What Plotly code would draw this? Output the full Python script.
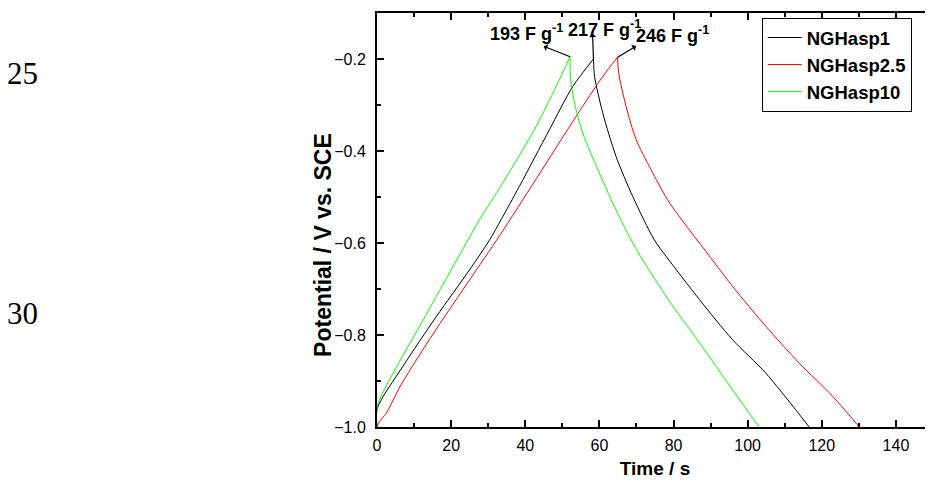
import plotly.graph_objects as go

# galvanostatic charge/discharge curves
# each curve split at the peak: charge branch, then discharge branch
t_nghasp1_c = [0, 0.1, 7, 16, 25, 30.4, 33.5, 38.4, 46.5, 52.8, 58.4]
v_nghasp1_c = [-1.0, -0.959, -0.868, -0.76, -0.658, -0.593, -0.549, -0.477, -0.354, -0.26, -0.2]
t_nghasp1_d = [58.4, 58.7, 60.9, 64.5, 69, 74.8, 78, 87, 95.9, 104.9, 116.6]
v_nghasp1_d = [-0.2, -0.238, -0.317, -0.412, -0.499, -0.593, -0.629, -0.723, -0.81, -0.883, -1.0]

t_nghasp25_c = [0, 0.7, 2.5, 6.5, 16, 25, 33, 43, 53.7, 60.9, 64.9]
v_nghasp25_c = [-1.0, -0.988, -0.97, -0.908, -0.787, -0.68, -0.585, -0.46, -0.325, -0.238, -0.196]
t_nghasp25_d = [64.9, 65.2, 67.2, 69.9, 73.9, 78.4, 84.3, 87, 95.9, 104.9, 113.9, 122.9, 130.1]
v_nghasp25_d = [-0.196, -0.23, -0.303, -0.375, -0.44, -0.506, -0.572, -0.6, -0.694, -0.781,
                -0.861, -0.933, -1.0]

t_nghasp10_c = [0, 0.05, 3.4, 11.5, 18.5, 24.6, 27.7, 33.9, 42.9, 48.3, 52.1]
v_nghasp10_c = [-1.0, -0.955, -0.897, -0.781, -0.68, -0.593, -0.549, -0.47, -0.347, -0.26, -0.195]
t_nghasp10_d = [52.1, 52.2, 53.3, 55.5, 60, 63.2, 69, 78, 87, 95.9, 103.1]
v_nghasp10_d = [-0.195, -0.241, -0.296, -0.361, -0.448, -0.506, -0.6, -0.716, -0.817, -0.919, -1.0]

series_names = ["NGHasp1", "NGHasp2.5", "NGHasp10"]
series_colors = ["black", "red", "#00ff00"]
capacitance_labels = ["217 F g<sup>-1</sup>", "246 F g<sup>-1</sup>", "193 F g<sup>-1</sup>"]

x_ticks = [0, 20, 40, 60, 80, 100, 120, 140]
y_ticks = [-1.0, -0.8, -0.6, -0.4, -0.2]

curves = [
    ((t_nghasp1_c, v_nghasp1_c), (t_nghasp1_d, v_nghasp1_d)),
    ((t_nghasp25_c, v_nghasp25_c), (t_nghasp25_d, v_nghasp25_d)),
    ((t_nghasp10_c, v_nghasp10_c), (t_nghasp10_d, v_nghasp10_d)),
]

fig = go.Figure()
for (charge, discharge), name, color in zip(curves, series_names, series_colors):
    for k, (t, v) in enumerate([charge, discharge]):
        fig.add_trace(go.Scatter(x=t, y=v, mode="lines", name=name, legendgroup=name,
                                 showlegend=(k == 0),
                                 line=dict(color=color, width=1, shape="spline", smoothing=0.8)))

# arrows from each peak towards its label (pixel offsets of the arrow head)
arrow_offsets = [(-1, -27), (20, -12), (-28, -11)]
label_pos = [(61.5, -0.133), (79.8, -0.147), (40.3, -0.142)]
for (charge, _), (ax, ay), label, (lx, ly) in zip(curves, arrow_offsets, capacitance_labels, label_pos):
    t, v = charge
    fig.add_annotation(x=t[-1], y=v[-1], ax=ax, ay=ay, text="", showarrow=True,
                       arrowside="start", arrowhead=2, arrowsize=1, arrowwidth=1.2,
                       arrowcolor="black")
    fig.add_annotation(x=lx, y=ly, text=label, showarrow=False,
                       font=dict(family="Liberation Sans", size=18, color="black", weight="bold"))

# manuscript line numbers at the left margin
for txt, yy in [("25", 0.853), ("30", 0.273)]:
    fig.add_annotation(xref="paper", yref="paper", x=-0.637, y=yy, text=txt, showarrow=False,
                       xanchor="center", yanchor="middle",
                       font=dict(family="Liberation Serif", size=31, color="black"))

# y axis title, sitting a little below the middle of the axis as in the original
fig.add_annotation(xref="paper", yref="paper", x=-0.097, y=0.44, text="Potential / V vs. SCE",
                   textangle=-90, showarrow=False, xanchor="center", yanchor="middle",
                   font=dict(family="Liberation Sans", size=23, color="black", weight="bold"))

axis_font = dict(family="Liberation Sans", size=16, color="black")

# the page body adds an 8px offset, margins are set to compensate
fig.update_layout(
    width=933, height=485,
    margin=dict(l=369, r=8, t=5, b=66, autoexpand=False),
    paper_bgcolor="white", plot_bgcolor="white",
    showlegend=True,
    legend=dict(x=0.692, y=0.988, xanchor="left", yanchor="top",
                bordercolor="black", borderwidth=1, bgcolor="white",
                font=dict(family="Liberation Sans", size=18.5, color="black", weight="bold"),
                tracegroupgap=0, itemwidth=34),
    xaxis=dict(range=[0, 150], tickvals=x_ticks, ticks="inside", ticklen=7, tickwidth=1.5,
               tickcolor="black", showline=True, linecolor="black", linewidth=2, mirror="ticks",
               showgrid=False, zeroline=False, tickfont=axis_font, ticklabelstandoff=3,
               automargin=False,
               minor=dict(dtick=10, ticks="inside", ticklen=4, tickwidth=1.5, tickcolor="black"),
               title=dict(text="Time / s", standoff=8,
                          font=dict(family="Liberation Sans", size=19, color="black",
                                    weight="bold"))),
    yaxis=dict(range=[-1.0, -0.1], tickvals=y_ticks, tickformat=".1f", ticks="inside",
               ticklen=7, tickwidth=1.5, tickcolor="black", showline=True, linecolor="black",
               linewidth=2, mirror=False, showgrid=False, zeroline=False, tickfont=axis_font,
               ticklabelstandoff=6, automargin=False,
               minor=dict(tick0=-1.0, dtick=0.1, ticks="inside", ticklen=4, tickwidth=1.5,
                          tickcolor="black")),
)

fig.write_html("out.html")
